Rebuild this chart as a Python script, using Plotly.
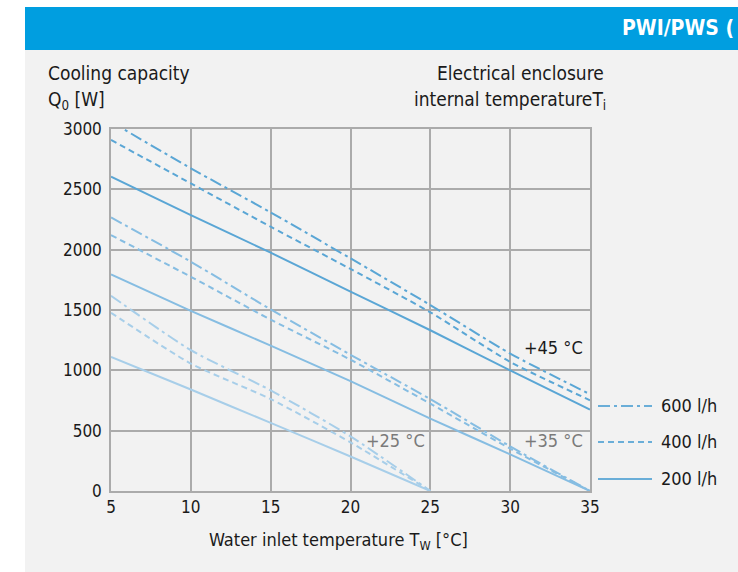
import plotly.graph_objects as go

# ---------------- data ----------------
water_temp = [5, 10, 15, 20, 25, 30, 35]
water_temp_25 = [5, 10, 15, 20, 25]

q45_600 = [3060, 2674, 2309, 1928, 1541, 1139, 802]
q45_400 = [2909, 2549, 2190, 1840, 1481, 1070, 752]
q45_200 = [2605, 2287, 1975, 1652, 1332, 1000, 675]

q35_600 = [2267, 1900, 1505, 1129, 762, 370, 0]
q35_400 = [2121, 1775, 1420, 1088, 724, 351, 0]
q35_200 = [1795, 1493, 1205, 910, 600, 304, 0]

q25_600 = [1618, 1167, 834, 453, 0]
q25_400 = [1477, 1056, 762, 403, 0]
q25_200 = [1112, 841, 564, 286, 0]

x_ticks = [5, 10, 15, 20, 25, 30, 35]
y_ticks = [0, 500, 1000, 1500, 2000, 2500, 3000]
flow_labels = ["600 l/h", "400 l/h", "200 l/h"]

# ---------------- style ----------------
W, H = 738, 572
L, R, T, B = 111, 590, 129, 491
FONT = "DejaVu Sans Condensed, Liberation Sans Narrow, sans-serif"
C45 = "#5aa6d5"
C35 = "#86bde2"
C25 = "#a7cee9"
CLEG = "#6aaed8"
GRID = "#ababab"
TXT = "#1a1a1a"
DASHDOT = "12px,4px,3px,4px"
DASH = "6px,4px"


def px(p):
    return (p - L) / (R - L)


def py(p):
    return (B - p) / (B - T)


fig = go.Figure()

series = [
    (water_temp, q45_600, C45, DASHDOT),
    (water_temp, q45_400, C45, DASH),
    (water_temp, q45_200, C45, "solid"),
    (water_temp, q35_600, C35, DASHDOT),
    (water_temp, q35_400, C35, DASH),
    (water_temp, q35_200, C35, "solid"),
    (water_temp_25, q25_600, C25, DASHDOT),
    (water_temp_25, q25_400, C25, DASH),
    (water_temp_25, q25_200, C25, "solid"),
]
for xs, ys, col, dash in series:
    fig.add_trace(go.Scatter(
        x=xs, y=ys, mode="lines",
        line=dict(color=col, width=2, dash=dash, shape="spline", smoothing=0.6),
        showlegend=False, hoverinfo="skip",
    ))

shapes = [
    dict(type="rect", xref="paper", yref="paper", x0=px(25), x1=px(760), y0=py(50), y1=py(600),
         fillcolor="#f2f2f2", line_width=0, layer="below"),
    dict(type="rect", xref="paper", yref="paper", x0=px(25), x1=px(760), y0=py(7), y1=py(50),
         fillcolor="#009ee0", line_width=0, layer="below"),
]
leg_y = [406, 442, 479]
leg_dash = [DASHDOT, DASH, "solid"]
for yy, d in zip(leg_y, leg_dash):
    shapes.append(dict(type="line", xref="paper", yref="paper", x0=px(598), x1=px(652),
                       y0=py(yy), y1=py(yy), line=dict(color=CLEG, width=2, dash=d)))


def note(text, xp, yp, anchor, size=18, color=TXT):
    return dict(text=text, xref="paper", yref="paper", x=px(xp), y=py(yp), xanchor=anchor,
                yanchor="middle", showarrow=False, font=dict(family=FONT, size=size, color=color))


annotations = [
    note("<b>PWI/PWS (</b>", 620, 28, "left", size=21, color="white"),
    note("Cooling capacity", 46, 73, "left", size=19),
    note("Q<sub>0</sub> [W]", 46, 100, "left", size=19),
    note("Electrical enclosure", 606, 73, "right", size=19),
    note("internal temperatureT<sub>i</sub>", 608, 100, "right", size=19),
    note("Water inlet temperature T<sub>W</sub> [°C]", 338, 541, "center", size=18),
    dict(text="+45 °C", x=34.7, y=1186, xanchor="right", yanchor="middle", showarrow=False,
         font=dict(family=FONT, size=18, color=TXT)),
    dict(text="+35 °C", x=34.7, y=415, xanchor="right", yanchor="middle", showarrow=False,
         font=dict(family=FONT, size=18, color="#7a7a7a")),
    dict(text="+25 °C", x=24.8, y=415, xanchor="right", yanchor="middle", showarrow=False,
         font=dict(family=FONT, size=18, color="#7a7a7a")),
]
for yy, lab in zip(leg_y, flow_labels):
    annotations.append(note(lab, 659, yy - 1, "left", size=18))

fig.update_layout(
    width=W, height=H,
    margin=dict(l=L, r=W - R, t=T, b=H - B, pad=0),
    paper_bgcolor="white",
    plot_bgcolor="rgba(0,0,0,0)",
    shapes=shapes,
    annotations=annotations,
    showlegend=False,
    font=dict(family=FONT, size=17, color=TXT),
    xaxis=dict(range=[5, 35], tickvals=x_ticks, ticktext=[str(v) for v in x_ticks],
               showgrid=True, gridcolor=GRID, gridwidth=1.5, zeroline=False,
               showline=True, linecolor=GRID, linewidth=1.5, mirror=True,
               ticks="", ticklabelstandoff=0, tickfont=dict(family=FONT, size=17, color=TXT)),
    yaxis=dict(range=[0, 3000], tickvals=y_ticks, ticktext=[str(v) for v in y_ticks],
               showgrid=True, gridcolor=GRID, gridwidth=1.5, zeroline=False,
               showline=True, linecolor=GRID, linewidth=1.5, mirror=True,
               ticks="", ticklabelstandoff=4, tickfont=dict(family=FONT, size=17, color=TXT)),
)

fig.write_html("out.html", config={"displayModeBar": False},
               post_script="document.body.style.margin='0';")
